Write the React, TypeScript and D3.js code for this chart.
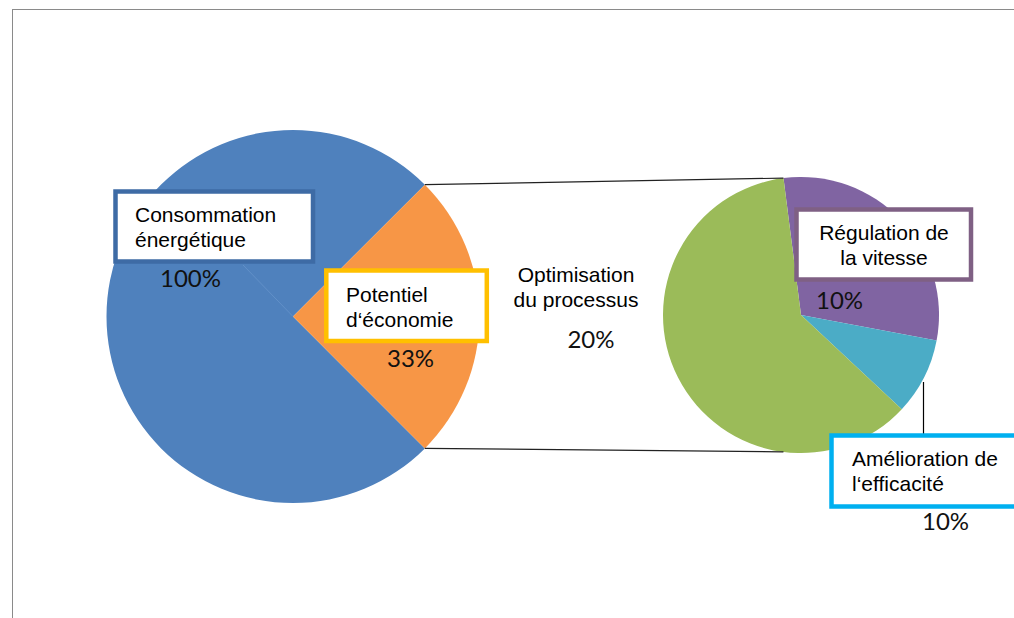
import React from "react";
import * as d3 from "d3";

// Main pie: shares (slice angles)
const mainCategories = ["Consommation énergétique", "Potentiel d‘économie"];
const mainValues = [75, 25];
const mainLabels = ["100%", "33%"];
const mainColors = ["#4F81BD", "#F79646"];

// Secondary pie (breakdown of the potential)
const subCategories = ["Régulation de la vitesse", "Amélioration de l‘efficacité", "Optimisation du processus"];
const subValues = [30, 9, 61];
const subLabels = ["10%", "10%", "20%"];
const subColors = ["#8064A2", "#4BACC6", "#9BBB59"];

const deg = Math.PI / 180;

export default function App() {
  const W = 1014, H = 618;
  const c1 = { x: 293, y: 316.5, r: 186.5 };
  const c2 = { x: 801, y: 315, r: 138 };

  const pie1 = d3.pie<number>().sort(null).value((d) => d).startAngle(135 * deg).endAngle(135 * deg + 2 * Math.PI);
  const arcs1 = pie1(mainValues);
  const arc1 = d3.arc<d3.PieArcDatum<number>>().innerRadius(0).outerRadius(c1.r);

  const sub0 = -7.3 * deg;
  const pie2 = d3.pie<number>().sort(null).value((d) => d).startAngle(sub0).endAngle(sub0 + 2 * Math.PI);
  const arcs2 = pie2(subValues);
  const arc2 = d3.arc<d3.PieArcDatum<number>>().innerRadius(0).outerRadius(c2.r);

  const pt = (c: { x: number; y: number; r: number }, a: number) => [c.x + c.r * Math.sin(a), c.y - c.r * Math.cos(a)];
  const o = arcs1[1];
  const p1a = pt(c1, o.startAngle);
  const p1b = pt(c1, o.endAngle);
  const p2a = pt(c2, sub0);
  const p2b = pt(c2, Math.PI - sub0);

  const labelFont = "'Liberation Sans', Arial, sans-serif";
  const pctFont = "Lato, 'Open Sans', sans-serif";
  const fs = 21;
  const pfs = 24;

  return (
    <svg width={W} height={H} style={{ position: "fixed", left: 0, top: 0, background: "#fff" }}>
      <rect x={12.5} y={9.5} width={1100} height={700} fill="#fff" stroke="#8a8a8a" strokeWidth={1} />
      <g transform={`translate(${c1.x},${c1.y})`}>
        {arcs1.map((a, i) => (
          <path key={i} d={arc1(a) as string} fill={mainColors[i]} />
        ))}
      </g>
      <g transform={`translate(${c2.x},${c2.y})`}>
        {arcs2.map((a, i) => (
          <path key={i} d={arc2(a) as string} fill={subColors[i]} />
        ))}
      </g>
      {/* connector lines */}
      <line x1={p1a[0]} y1={p1a[1]} x2={p2a[0]} y2={p2a[1]} stroke="#222" strokeWidth={1.2} />
      <line x1={p1b[0]} y1={p1b[1]} x2={p2b[0]} y2={p2b[1]} stroke="#222" strokeWidth={1.2} />
      {/* leader lines */}
      <line x1={243} y1={265} x2={c1.x} y2={c1.y} stroke="#6f9bd0" strokeWidth={1} opacity={0.6} />
      <line x1={923.5} y1={382} x2={923.5} y2={434} stroke="#000" strokeWidth={1.2} />

      {/* Consommation box */}
      <rect x={115.5} y={191.5} width={197.5} height={70} fill="#fff" stroke="#3E6BA5" strokeWidth={4.5} />
      <text x={135} y={222} fontFamily={labelFont} fontSize={fs} fill="#000">{"Consommation"}</text>
      <text x={135} y={247} fontFamily={labelFont} fontSize={fs} fill="#000">{"énergétique"}</text>
      <text x={160} y={287} fontFamily={pctFont} fontSize={pfs} fill="#111">{mainLabels[0]}</text>

      {/* Potentiel box */}
      <rect x={326.3} y={270.5} width={160.5} height={70.5} fill="#fff" stroke="#FFC000" strokeWidth={4.5} />
      <text x={346} y={302} fontFamily={labelFont} fontSize={fs} fill="#000">{"Potentiel"}</text>
      <text x={346} y={327} fontFamily={labelFont} fontSize={fs} fill="#000">{"d‘économie"}</text>
      <text x={387} y={367} fontFamily={pctFont} fontSize={pfs} fill="#111">{mainLabels[1]}</text>

      {/* Optimisation label */}
      <text x={576} y={282} textAnchor="middle" fontFamily={labelFont} fontSize={fs} fill="#000">{"Optimisation"}</text>
      <text x={576} y={307} textAnchor="middle" fontFamily={labelFont} fontSize={fs} fill="#000">{"du processus"}</text>
      <text x={591} y={348} textAnchor="middle" fontFamily={pctFont} fontSize={pfs} fill="#111">{subLabels[2]}</text>

      {/* Régulation box */}
      <rect x={796.5} y={209.5} width={174.5} height={70} fill="#fff" stroke="#7F6084" strokeWidth={4.5} />
      <text x={884} y={240} textAnchor="middle" fontFamily={labelFont} fontSize={fs} fill="#000">{"Régulation de"}</text>
      <text x={884} y={265} textAnchor="middle" fontFamily={labelFont} fontSize={fs} fill="#000">{"la vitesse"}</text>
      <text x={816} y={309} fontFamily={pctFont} fontSize={pfs} fill="#111">{subLabels[0]}</text>

      {/* Amélioration box */}
      <rect x={831.5} y={435.5} width={220} height={71} fill="#fff" stroke="#00B0F0" strokeWidth={4.5} />
      <text x={852} y={466} fontFamily={labelFont} fontSize={fs} fill="#000">{"Amélioration de"}</text>
      <text x={852} y={491} fontFamily={labelFont} fontSize={fs} fill="#000">{"l‘efficacité"}</text>
      <text x={922} y={530} fontFamily={pctFont} fontSize={pfs} fill="#111">{subLabels[1]}</text>
    </svg>
  );
}
